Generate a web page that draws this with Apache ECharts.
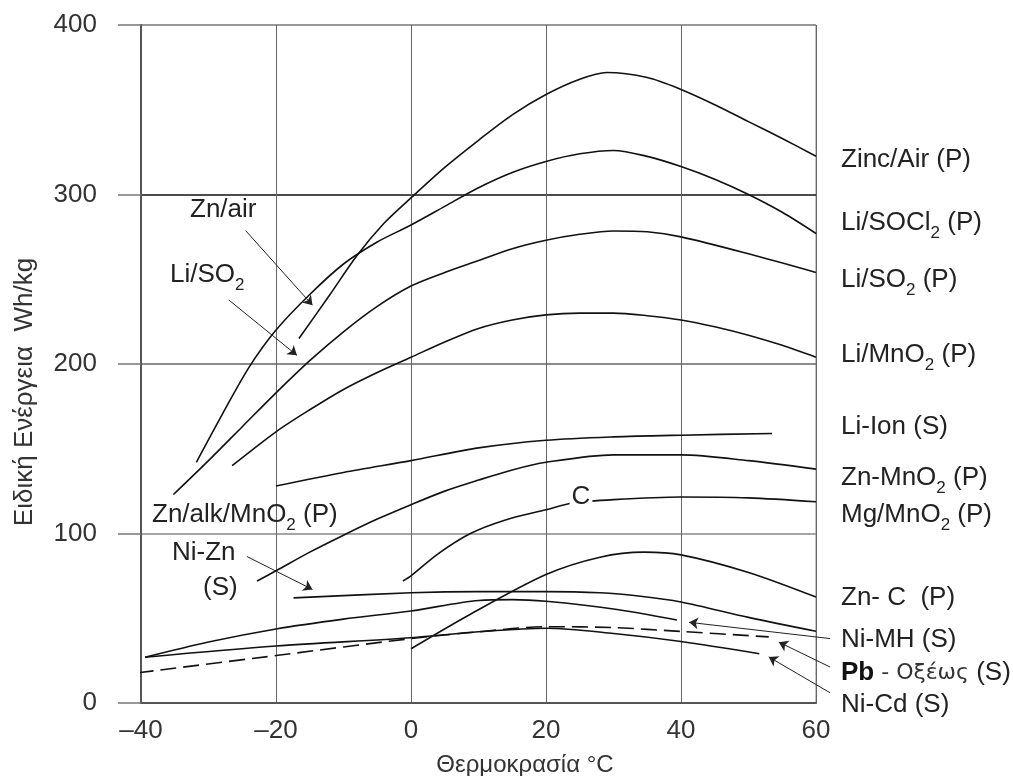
<!DOCTYPE html>
<html><head><meta charset="utf-8">
<script src="https://cdn.jsdelivr.net/npm/echarts@6/dist/echarts.min.js"></script>
<style>html,body{margin:0;padding:0;background:#fff}#c{width:1013px;height:776px}</style>
</head><body><div id="c"></div>
<script>
// ---- data ----
const xTicks = [-40, -20, 0, 20, 40, 60];
const yTicks = [0, 100, 200, 300, 400];

const zincAir = [[-16.6,215],[-12,241],[-8,264],[-4,283],[0,298],[5,316],[10,332],[15,347],[20,359],[25,368],[29,372],[35,369],[40,362],[45,353],[50,343],[55,333],[60,322.6]];
const liSOCl2 = [[-31.8,142],[-28,170],[-24,198],[-20,220],[-15,241],[-10,259],[-5,272],[0,282],[5,293],[10,304],[15,313],[20,319.5],[25,324],[30,326],[35,322.5],[40,316.5],[45,309],[50,300],[55,289.5],[60,277]];
const liSO2   = [[-35.2,123],[-30,143],[-25,163],[-20,183],[-15,202],[-10,219],[-5,234],[0,246],[5,254],[10,261],[15,268],[20,273],[25,276.5],[30,278.5],[35,278],[40,275],[50,265],[60,254]];
const liMnO2  = [[-26.5,140],[-20,160],[-15,173],[-10,185],[-5,195],[0,204],[5,213],[10,221],[15,226],[20,229],[25,230],[30,230],[35,228.5],[40,226],[45,222],[50,217],[55,211],[60,204]];
const liIon   = [[-20,128],[-10,136],[0,143],[10,150.5],[20,155],[30,157],[40,158],[53.5,159]];
const znMnO2  = [[-22.8,72],[-20,78],[-15,89],[-10,99],[-5,108.5],[0,117],[5,125],[10,131.5],[15,137.5],[20,142],[30,146.4],[40,146.4],[50,143],[60,138]];
const mgMnO2  = [[-1.2,72],[0,75],[4,88],[8.8,100],[14,108],[20,114],[24,118],[30,120],[40,121.5],[50,121],[60,118.7]];
const niZn    = [[-17.4,62],[0,65],[10,65.7],[20,65.7],[28,65],[34,63],[40,59.6],[50,50.5],[60,42.3]];
const niMH    = [[-39.4,27],[-30,36],[-20,43.7],[-10,49.5],[0,54.3],[10,60.5],[15,61],[20,60],[30,55.5],[39.4,49]];
const niCd    = [[-39.4,27],[-20,33.6],[0,38.5],[10,42],[20,44.1],[30,41],[40,36.3],[51.6,29.1]];
const pbAcid  = [[-40.5,17.8],[-20,28],[0,38],[10,42],[20,45],[30,44.5],[40,42.2],[53,39]];
const znC     = [[0,32],[8.8,52.4],[20,75.8],[28,86],[34.5,89],[40,87.4],[50,77],[60,62.5]];

const curveNames = ['Zinc/Air','Li/SOCl2','Li/SO2','Li/MnO2','Li-Ion','Zn-MnO2','Mg/MnO2','Ni-Zn','Ni-MH','Ni-Cd','Pb-acid','Zn-C'];
const curves = [zincAir, liSOCl2, liSO2, liMnO2, liIon, znMnO2, mgMnO2, niZn, niMH, niCd, pbAcid, znC];

// annotation arrows, in data coordinates [from, to]
const arrows = [
  [[-24.5,278.7],[-14.6,234.7]],   // Zn/air
  [[-27,237.8],[-16.9,205.1]],     // Li/SO2
  [[-24.3,86.4],[-14.6,67]],       // Ni-Zn
  [[62.1,38],[41.2,47.6]],         // Ni-MH
  [[62.1,21.2],[54.5,35.9]],       // Pb
  [[62.1,6],[53,27.2]]             // Ni-Cd
];

// label texts
const rightLabels = ['Zinc/Air (P)','Li/SOCl{s|2} (P)','Li/SO{s|2} (P)','Li/MnO{s|2} (P)','Li-Ion (S)','Zn-MnO{s|2} (P)','Mg/MnO{s|2} (P)','Zn- C  (P)','Ni-MH (S)','{b|Pb}{g| - Οξέως} (S)','Ni-Cd (S)'];
const leftLabels = ['Zn/air','Li/SO{s|2}','Zn/alk/MnO{s|2} (P)','Ni-Zn','(S)'];
const xTitle = 'Θερμοκρασία °C';
const yTitle = 'Ειδική Ενέργεια  Wh/kg';

// ---- layout ----
const rightLabelY = [160,223,280,355,427,478,515,598,640,673,705];
const leftLabelPos = [[190,210],[170,275],[152,515],[172,553],[203,588]];

const FONT = '"Liberation Sans", Arial, Helvetica, sans-serif';
const TXT = '#222';
const richStyle = {
  s: {fontSize: 17, lineHeight: 17, verticalAlign: 'bottom', fontFamily: FONT, fill: TXT},
  b: {fontSize: 26, fontFamily: FONT, fill: '#111', fontWeight: 'bold'},
  g: {fontSize: 22, fontFamily: '"DejaVu Sans", sans-serif', fill: '#333'}
};
function textEl(str, x, y, extra) {
  return Object.assign({
    type: 'text', x: x, y: y, z: 100, silent: true,
    style: {text: str, fill: TXT, fontSize: 26, fontFamily: FONT, lineHeight: 38,
      align: 'left', textAlign: 'left', verticalAlign: 'middle', textVerticalAlign: 'middle', rich: richStyle}
  }, extra || {});
}

const chart = echarts.init(document.getElementById('c'));
const graphics = [];
rightLabels.forEach((t, i) => graphics.push(textEl(t, 841, rightLabelY[i])));
leftLabels.forEach((t, i) => graphics.push(textEl(t, leftLabelPos[i][0], leftLabelPos[i][1])));
graphics.push({type:'text', x:581, y:497, z:100, silent:true,
  style:{text:'C', fill:TXT, fontSize:26, fontFamily:FONT, align:'center', textAlign:'center',
    verticalAlign:'middle', textVerticalAlign:'middle', backgroundColor:'#fff', padding:[0,2]}});
graphics.push({type:'text', x:525, y:765, z:100, silent:true,
  style:{text:xTitle, fill:'#333', fontSize:24, fontFamily:FONT, align:'center', textAlign:'center',
    verticalAlign:'middle', textVerticalAlign:'middle'}});
graphics.push({type:'text', x:25, y:392, rotation:Math.PI/2, z:100, silent:true,
  style:{text:yTitle, fill:'#333', fontSize:26, fontFamily:FONT, align:'center', textAlign:'center',
    verticalAlign:'middle', textVerticalAlign:'middle'}});

const series = curves.map((d, i) => ({
  name: curveNames[i], type: 'line', data: d, showSymbol: false, symbol: 'none',
  smooth: 0.3, z: 3, silent: true,
  lineStyle: {color: '#111', width: 1.6, type: curveNames[i] === 'Pb-acid' ? [16, 7] : 'solid'}
}));
series.push({
  type: 'lines', coordinateSystem: 'cartesian2d', clip: false, silent: true, z: 4,
  symbol: ['none', 'arrow'], symbolSize: 9,
  lineStyle: {color: '#222', width: 1, opacity: 1, curveness: 0},
  data: arrows.map(a => ({coords: a}))
});

chart.setOption({
  animation: false,
  backgroundColor: '#fff',
  grid: {left: 141, right: 197, top: 25, bottom: 73, show: true, borderColor: '#888', borderWidth: 1},
  xAxis: {
    type: 'value', min: xTicks[0], max: xTicks[xTicks.length-1], interval: 20,
    axisLine: {show: true, onZero: false, lineStyle: {color: '#555', width: 2}},
    axisTick: {show: false},
    axisLabel: {fontSize: 26, color: '#333', fontFamily: FONT, margin: 15,
      formatter: v => v < 0 ? '–' + (-v) : String(v)},
    splitLine: {show: true, lineStyle: {color: '#666', width: 1}}
  },
  yAxis: {
    type: 'value', min: yTicks[0], max: yTicks[yTicks.length-1], interval: 100,
    axisLine: {show: true, onZero: false, lineStyle: {color: '#555', width: 2}},
    axisTick: {show: true, length: 23, lineStyle: {color: '#777', width: 1.5}},
    axisLabel: {fontSize: 26, color: '#333', fontFamily: FONT, margin: 44},
    splitLine: {show: true, lineStyle: {color: ['#666','#888','#666','#111','#888'], width: 1.5}}
  },
  graphic: graphics,
  series: series
});
</script></body></html>
